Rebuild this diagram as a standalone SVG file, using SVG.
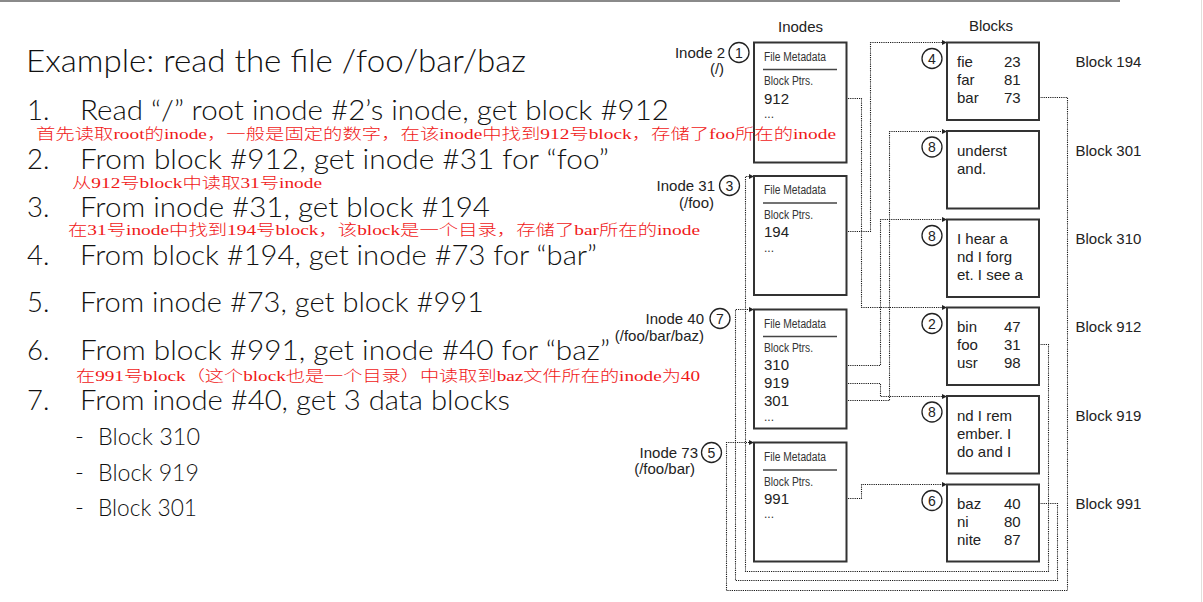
<svg xmlns="http://www.w3.org/2000/svg" width="1203" height="602" viewBox="0 0 1203 602">
  <style>
    .slide { font-family: "Lato", "Open Sans", sans-serif; font-weight: 300; fill: #111; }
    .title { font-size: 31px; }
    .item { font-size: 27.5px; }
    .sub { font-size: 24px; }
    .note { font-family: "Liberation Serif", "Noto Sans CJK SC", serif; font-size: 15px; font-weight: 300; fill: #f01818; }
    .lbl { font-family: "Liberation Sans", Arial, sans-serif; font-size: 15px; fill: #222; }
    .small { font-family: "Liberation Sans", Arial, sans-serif; font-size: 12px; fill: #333; }
    .box { fill: #fff; stroke: #333; stroke-width: 2; }
    .sep { stroke: #444; stroke-width: 1.3; }
    .badge { fill: none; stroke: #222; stroke-width: 1.3; }
    .num { font-family: "Liberation Sans", Arial, sans-serif; font-size: 14px; fill: #222; text-anchor: middle; }
    .link { fill: none; stroke: #1a1a1a; stroke-width: 1.1; stroke-dasharray: 1.2 1; marker-end: url(#tip); }
  </style>
  <defs>
    <marker id="tip" markerUnits="userSpaceOnUse" markerWidth="5" markerHeight="5" refX="5" refY="2.5" orient="auto">
      <path d="M0,0 L5,2.5 L0,5 z" fill="#222"/>
    </marker>
  </defs>

  <rect width="1203" height="602" fill="#fff"/>
  <rect x="0" y="0" width="1120" height="2" fill="#8a8a8a"/>
  <line x1="1201.5" y1="0" x2="1201.5" y2="602" stroke="#e2dfdb" stroke-width="1"/>

  <!-- column headers -->
  <text class="lbl" x="800.5" y="31.5" text-anchor="middle">Inodes</text>
  <text class="lbl" x="991" y="30.5" text-anchor="middle">Blocks</text>

  <!-- connectors -->
  <g id="connectors">
    <path class="link" d="M793 98.5 H861.5 V307.5 H947"/>
    <path class="link" d="M793 231.5 H870.5 V42.5 H947"/>
    <path class="link" d="M1026 344.5 H1048.5 V571.5 H745.5 V176.5 H754"/>
    <path class="link" d="M1026 503.5 H1057.5 V580.5 H735.5 V309.5 H754"/>
    <path class="link" d="M1026 97.5 H1067.5 V590.5 H726.5 V442.5 H754"/>
    <path class="link" d="M793 365.5 H880.5 V219.5 H947"/>
    <path class="link" d="M793 383.5 H880.5 V396.5 H947"/>
    <path class="link" d="M793 400.5 H889.5 V131.5 H947"/>
    <path class="link" d="M793 498.5 H861.5 V484.5 H947"/>
  </g>

  <!-- inodes -->
  <g id="inode-2">
    <rect class="box" x="754" y="42.5" width="92.5" height="120"/>
    <text class="lbl" x="725" y="57.5" text-anchor="end">Inode 2</text>
    <text class="lbl" x="717" y="74" text-anchor="middle">(/)</text>
    <circle class="badge" cx="739" cy="52.5" r="10"/>
    <text class="num" x="739" y="57.5">1</text>
    <text class="small" x="764" y="60.5" textLength="62" lengthAdjust="spacingAndGlyphs">File Metadata</text>
    <line class="sep" x1="763" y1="69.5" x2="837" y2="69.5"/>
    <text class="small" x="764" y="85" textLength="49" lengthAdjust="spacingAndGlyphs">Block Ptrs.</text>
    <text class="lbl" x="764" y="103.5">912</text>
    <text class="small" x="764" y="118">...</text>
  </g>

  <g id="inode-31">
    <rect class="box" x="754" y="176" width="92.5" height="119"/>
    <text class="lbl" x="715" y="190.5" text-anchor="end">Inode 31</text>
    <text class="lbl" x="714" y="208" text-anchor="end">(/foo)</text>
    <circle class="badge" cx="729.5" cy="185.5" r="10"/>
    <text class="num" x="729.5" y="190.5">3</text>
    <text class="small" x="764" y="194" textLength="62" lengthAdjust="spacingAndGlyphs">File Metadata</text>
    <line class="sep" x1="763" y1="203" x2="837" y2="203"/>
    <text class="small" x="764" y="218.5" textLength="49" lengthAdjust="spacingAndGlyphs">Block Ptrs.</text>
    <text class="lbl" x="764" y="237">194</text>
    <text class="small" x="764" y="251.5">...</text>
  </g>

  <g id="inode-40">
    <rect class="box" x="754" y="309.5" width="92.5" height="119"/>
    <text class="lbl" x="704" y="323.5" text-anchor="end">Inode 40</text>
    <text class="lbl" x="704" y="340.5" text-anchor="end">(/foo/bar/baz)</text>
    <circle class="badge" cx="720" cy="318.5" r="10"/>
    <text class="num" x="720" y="323.5">7</text>
    <text class="small" x="764" y="327.5" textLength="62" lengthAdjust="spacingAndGlyphs">File Metadata</text>
    <line class="sep" x1="763" y1="336.5" x2="837" y2="336.5"/>
    <text class="small" x="764" y="352" textLength="49" lengthAdjust="spacingAndGlyphs">Block Ptrs.</text>
    <text class="lbl" x="764" y="370">310</text>
    <text class="lbl" x="764" y="388">919</text>
    <text class="lbl" x="764" y="406">301</text>
    <text class="small" x="764" y="421">...</text>
  </g>

  <g id="inode-73">
    <rect class="box" x="754" y="442.5" width="92.5" height="119"/>
    <text class="lbl" x="698" y="457.5" text-anchor="end">Inode 73</text>
    <text class="lbl" x="695" y="474" text-anchor="end">(/foo/bar)</text>
    <circle class="badge" cx="711.5" cy="452.5" r="10"/>
    <text class="num" x="711.5" y="457.5">5</text>
    <text class="small" x="764" y="461" textLength="62" lengthAdjust="spacingAndGlyphs">File Metadata</text>
    <line class="sep" x1="763" y1="470" x2="837" y2="470"/>
    <text class="small" x="764" y="485.5" textLength="49" lengthAdjust="spacingAndGlyphs">Block Ptrs.</text>
    <text class="lbl" x="764" y="503.5">991</text>
    <text class="small" x="764" y="518">...</text>
  </g>

  <!-- data blocks -->
  <g id="block-194">
    <rect class="box" x="947" y="42.5" width="92" height="77.5"/>
    <circle class="badge" cx="932" cy="58.5" r="10"/>
    <text class="num" x="932" y="63.5">4</text>
    <text class="lbl" x="957" y="66.5">fie</text><text class="lbl" x="1004" y="66.5">23</text>
    <text class="lbl" x="957" y="84.5">far</text><text class="lbl" x="1004" y="84.5">81</text>
    <text class="lbl" x="957" y="102.5">bar</text><text class="lbl" x="1004" y="102.5">73</text>
    <text class="lbl" x="1075.5" y="66.5">Block 194</text>
  </g>

  <g id="block-301">
    <rect class="box" x="947" y="131" width="92" height="77.5"/>
    <circle class="badge" cx="932" cy="147" r="10"/>
    <text class="num" x="932" y="152">8</text>
    <text class="lbl" x="957" y="155.5">underst</text>
    <text class="lbl" x="957" y="173.5">and.</text>
    <text class="lbl" x="1075.5" y="155.5">Block 301</text>
  </g>

  <g id="block-310">
    <rect class="box" x="947" y="219.5" width="92" height="77.5"/>
    <circle class="badge" cx="932" cy="235.5" r="10"/>
    <text class="num" x="932" y="240.5">8</text>
    <text class="lbl" x="957" y="244">I hear a</text>
    <text class="lbl" x="957" y="262">nd I forg</text>
    <text class="lbl" x="957" y="280">et. I see a</text>
    <text class="lbl" x="1075.5" y="244">Block 310</text>
  </g>

  <g id="block-912">
    <rect class="box" x="947" y="307.5" width="92" height="77.5"/>
    <circle class="badge" cx="932" cy="323.5" r="10"/>
    <text class="num" x="932" y="328.5">2</text>
    <text class="lbl" x="957" y="332">bin</text><text class="lbl" x="1004" y="332">47</text>
    <text class="lbl" x="957" y="350">foo</text><text class="lbl" x="1004" y="350">31</text>
    <text class="lbl" x="957" y="368">usr</text><text class="lbl" x="1004" y="368">98</text>
    <text class="lbl" x="1075.5" y="332">Block 912</text>
  </g>

  <g id="block-919">
    <rect class="box" x="947" y="396" width="92" height="77.5"/>
    <circle class="badge" cx="932" cy="412" r="10"/>
    <text class="num" x="932" y="417">8</text>
    <text class="lbl" x="957" y="420.5">nd I rem</text>
    <text class="lbl" x="957" y="438.5">ember. I</text>
    <text class="lbl" x="957" y="456.5">do and I</text>
    <text class="lbl" x="1075.5" y="420.5">Block 919</text>
  </g>

  <g id="block-991">
    <rect class="box" x="947" y="484.5" width="92" height="77"/>
    <circle class="badge" cx="932" cy="500.5" r="10"/>
    <text class="num" x="932" y="505.5">6</text>
    <text class="lbl" x="957" y="508.5">baz</text><text class="lbl" x="1004" y="508.5">40</text>
    <text class="lbl" x="957" y="526.5">ni</text><text class="lbl" x="1004" y="526.5">80</text>
    <text class="lbl" x="957" y="544.5">nite</text><text class="lbl" x="1004" y="544.5">87</text>
    <text class="lbl" x="1075.5" y="508.5">Block 991</text>
  </g>

  <!-- slide text, drawn last so the annotations sit on top of the inode boxes -->
  <g id="steps">
    <text class="slide title" x="26" y="72" textLength="500" lengthAdjust="spacingAndGlyphs">Example: read the file /foo/bar/baz</text>
    <text class="slide item" x="27" y="120">1.</text>
    <text class="slide item" x="80" y="120" textLength="589" lengthAdjust="spacingAndGlyphs">Read “/” root inode #2’s inode, get block #912</text>
    <text class="note" x="36" y="139" textLength="800" lengthAdjust="spacingAndGlyphs">首先读取root的inode，一般是固定的数字，在该inode中找到912号block，存储了foo所在的inode</text>
    <text class="slide item" x="27" y="168.5">2.</text>
    <text class="slide item" x="80" y="168.5" textLength="529" lengthAdjust="spacingAndGlyphs">From block #912, get inode #31 for “foo”</text>
    <text class="note" x="72" y="187.5" textLength="250" lengthAdjust="spacingAndGlyphs">从912号block中读取31号inode</text>
    <text class="slide item" x="27" y="217">3.</text>
    <text class="slide item" x="80" y="217" textLength="410" lengthAdjust="spacingAndGlyphs">From inode #31, get block #194</text>
    <text class="note" x="68" y="235" textLength="632" lengthAdjust="spacingAndGlyphs">在31号inode中找到194号block，该block是一个目录，存储了bar所在的inode</text>
    <text class="slide item" x="27" y="264.5">4.</text>
    <text class="slide item" x="80" y="264.5" textLength="517" lengthAdjust="spacingAndGlyphs">From block #194, get inode #73 for “bar”</text>
    <text class="slide item" x="27" y="311.5">5.</text>
    <text class="slide item" x="80" y="311.5" textLength="404" lengthAdjust="spacingAndGlyphs">From inode #73, get block #991</text>
    <text class="slide item" x="27" y="359.5">6.</text>
    <text class="slide item" x="80" y="359.5" textLength="530" lengthAdjust="spacingAndGlyphs">From block #991, get inode #40 for “baz”</text>
    <text class="note" x="76" y="380.5" textLength="624" lengthAdjust="spacingAndGlyphs">在991号block（这个block也是一个目录）中读取到baz文件所在的inode为40</text>
    <text class="slide item" x="27" y="409.5">7.</text>
    <text class="slide item" x="80" y="409.5" textLength="430" lengthAdjust="spacingAndGlyphs">From inode #40, get 3 data blocks</text>
    <text class="slide sub" x="75" y="445">-</text>
    <text class="slide sub" x="98" y="445" textLength="102" lengthAdjust="spacingAndGlyphs">Block 310</text>
    <text class="slide sub" x="75" y="480.5">-</text>
    <text class="slide sub" x="98" y="480.5" textLength="101" lengthAdjust="spacingAndGlyphs">Block 919</text>
    <text class="slide sub" x="75" y="516">-</text>
    <text class="slide sub" x="98" y="516" textLength="99" lengthAdjust="spacingAndGlyphs">Block 301</text>
  </g>
</svg>
